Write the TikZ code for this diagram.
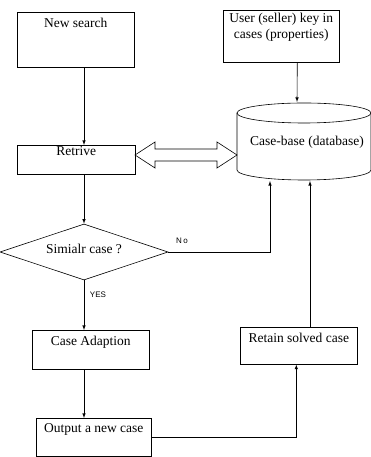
\documentclass[tikz,border=0pt]{standalone}
\usepackage{fontspec}
\setmainfont{Liberation Serif}
\newfontfamily\labelfont{Liberation Sans}
\usetikzlibrary{positioning}
\usetikzlibrary{arrows,shapes.geometric}

\begin{document}
\begin{tikzpicture}[x=1pt,y=1pt,>=latex,line width=0.6pt,
  box/.style={draw,rectangle,anchor=north west,inner sep=0pt},
  txt/.style={font=\fontsize{13.5}{16}\selectfont,align=center,inner sep=0pt},
  small/.style={font=\labelfont\fontsize{8}{9}\selectfont,inner sep=0pt}]
	  \useasboundingbox (0,0) rectangle (371,457);
	  % boxes
	  \node (search) [box,minimum width=117pt,minimum height=55pt] at (17,445) {};
	  \node [txt] at ([yshift=-11pt]search.north) {New search};
	  \node (user) [box,minimum width=116pt,minimum height=52pt] at (223,447) {};
	  \node [txt] at ([yshift=-17pt]user.north) {User (seller) key in\\cases (properties)};
	  \node (retrive) [box,minimum width=118pt,minimum height=29pt] at (17,312) {};
	  \node [txt] at ([yshift=-6pt]retrive.north) {Retrive};
	  \node (sim) [draw,diamond,minimum width=168pt,minimum height=56pt,inner sep=0pt] at (84,205) {};
	  \node [txt] at ([yshift=3pt]sim.center) {Simialr case ?};
	  \node (adapt) [box,minimum width=117pt,minimum height=39pt] at (32,127) {};
	  \node [txt] at ([yshift=-12pt]adapt.north) {Case Adaption};
	  \node (output) [box,minimum width=115pt,minimum height=38pt] at (36,39) {};
	  \node [txt] at ([yshift=-11pt]output.north) {Output a new case};
	  \node (retain) [box,minimum width=117pt,minimum height=37pt] at (240,130) {};
	  \node [txt] at ([yshift=-11pt]retain.north) {Retain solved case};
	  % database
	  \draw (237,344) -- (237,287) arc[start angle=180,end angle=360,x radius=67,y radius=10] -- (371,344);
	  \draw (304,344) ellipse [x radius=67,y radius=10];
	  \node (db) [txt] at (307,315) {Case-base (database)};
	  \coordinate (dbtop) at (297,355);
	  \coordinate (dbin1) at (270,276);
	  \coordinate (dbin2) at (310,276);
	  % two-way link
	  \draw (135,302) -- ++(20,13) -- ++(0,-7) -- ++(62,0) -- ++(0,7) -- ++(20,-13)
	        -- ++(-20,-13) -- ++(0,7) -- ++(-62,0) -- ++(0,-7) -- cycle;
	  % flow
	  \draw[->] (search.south -| sim.north) -- (retrive.north -| sim.north);
	  \draw[->] ([xshift=16pt]user.south) -- (dbtop);
	  \draw[->] (retrive.south -| sim.north) -- (sim.north);
	  \draw[->] (sim.east) -| (dbin1);
	  \node [small] (no) at (182,216) {N\,o};
	  \draw[->] (sim.south) -- (adapt.north -| sim.south);
	  \node [small] (yes) at (98,162) {YES};
	  \draw[->] (adapt.south -| sim.south) -- (output.north -| sim.south);
	  \draw[->] (output.east) -| ([xshift=-2.5pt]retain.south);
	  \draw[->] (retain.north -| dbin2) -- (dbin2);
	\end{tikzpicture}
\end{document}
